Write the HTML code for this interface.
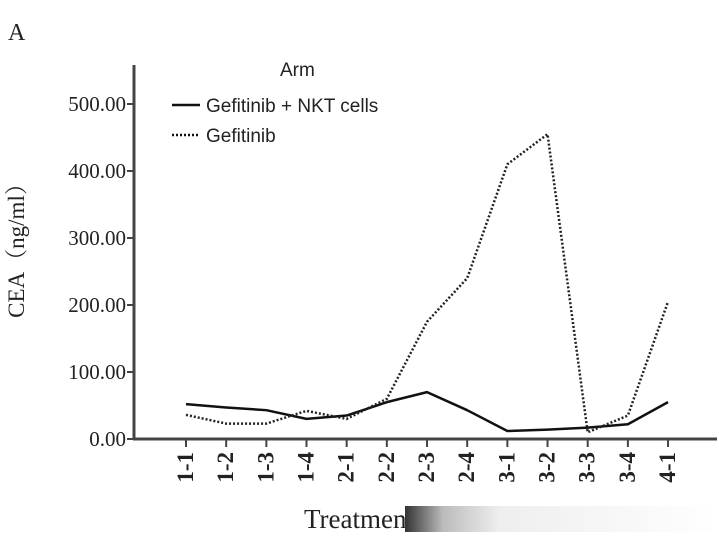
<!DOCTYPE html>
<html><head><meta charset="utf-8"><style>
body{margin:0;background:#fff;}
svg{display:block;}
</style></head><body>
<svg width="719" height="544" viewBox="0 0 719 544" xmlns="http://www.w3.org/2000/svg">
<defs>
<linearGradient id="fade" x1="0" x2="1" y1="0" y2="0">
<stop offset="0" stop-color="#333"/><stop offset="0.12" stop-color="#bbb"/><stop offset="0.3" stop-color="#eee"/><stop offset="1" stop-color="#fff"/>
</linearGradient>
</defs>
<text x="8" y="40" font-family="Liberation Serif, serif" font-size="24" fill="#222">A</text>
<g id="yaxis"></g>
<g id="xaxis"></g>
<g id="series"></g>
<text transform="translate(24,245) rotate(-90)" text-anchor="middle" font-family="Liberation Serif, 'Noto Serif CJK SC', serif" font-size="23" fill="#222">CEA（ng/ml）</text>
<text x="304" y="528" font-family="Liberation Serif, serif" font-size="27" fill="#222">Treatmen</text>
<rect x="405" y="506" width="314" height="26" fill="url(#fade)"/>
<g>
<text x="280" y="76" font-family="Liberation Sans, sans-serif" font-size="19" fill="#222">Arm</text>
<line x1="172" y1="105" x2="200" y2="105" stroke="#111" stroke-width="2.5"/>
<text x="206" y="112" font-family="Liberation Sans, sans-serif" font-size="19" fill="#222">Gefitinib + NKT cells</text>
<line x1="172" y1="135" x2="200" y2="135" stroke="#111" stroke-width="2.5" stroke-dasharray="2,2"/>
<text x="206" y="142" font-family="Liberation Sans, sans-serif" font-size="19" fill="#222">Gefitinib</text>
</g>
</svg>
<script>
const categories=["1-1","1-2","1-3","1-4","2-1","2-2","2-3","2-4","3-1","3-2","3-3","3-4","4-1"];
const nktValues=[52,47,43,30,35,55,70,43,12,14,17,22,55];
const gefValues=[36,23,23,42,30,60,175,240,410,455,10,35,205];
const yTicks=[0,100,200,300,400,500];
const yTickLabels=["0.00","100.00","200.00","300.00","400.00","500.00"];
const NS="http://www.w3.org/2000/svg";
const x=i=>186+i*40.17;
const y=v=>439-v*0.67;
function mk(tag,attrs,parent){const e=document.createElementNS(NS,tag);for(const k in attrs)e.setAttribute(k,attrs[k]);parent.appendChild(e);return e;}
const ya=document.getElementById('yaxis'),xa=document.getElementById('xaxis'),sg=document.getElementById('series');
let l=mk('line',{x1:134,y1:65,x2:134,y2:440,stroke:'#444','stroke-width':3},ya);


yTicks.forEach((t,i)=>{
 let tk=mk('line',{x1:127,x2:134,y1:y(t),y2:y(t),stroke:'#444','stroke-width':2},ya);
 
 
 let tx=mk('text',{x:126,y:y(t)+7,'text-anchor':'end','font-family':'Liberation Serif, serif','font-size':21,fill:'#222'},ya);
 tx.textContent=yTickLabels[i];
 
 
});
l=mk('line',{x1:133,y1:439,x2:717,y2:439,stroke:'#444','stroke-width':3},xa);


categories.forEach((c,i)=>{
 let tk=mk('line',{x1:x(i),x2:x(i),y1:439,y2:447,stroke:'#444','stroke-width':2},xa);
 
 
 let tx=mk('text',{transform:`translate(${x(i)+7},452) rotate(-90)`,'text-anchor':'end','font-family':'Liberation Serif, serif','font-size':23,'font-weight':'bold',fill:'#222'},xa);
 tx.textContent=c;
 
 
});
let p1=mk('polyline',{points:nktValues.map((v,i)=>x(i)+','+y(v)).join(' '),fill:'none',stroke:'#111','stroke-width':2.5,'stroke-linejoin':'round'},sg);


let p2=mk('polyline',{points:gefValues.map((v,i)=>x(i)+','+y(v)).join(' '),fill:'none',stroke:'#222','stroke-width':2.5,'stroke-dasharray':'2,2'},sg);


</script>
</body></html>
